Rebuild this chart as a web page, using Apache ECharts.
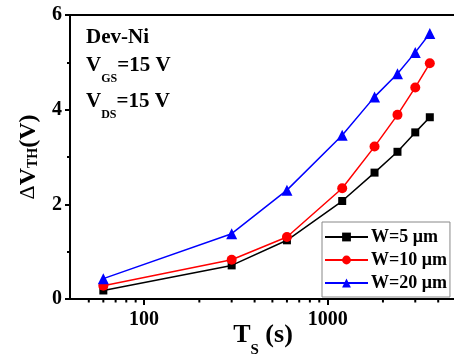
<!DOCTYPE html>
<html>
<head>
<meta charset="utf-8">
<script src="https://cdn.jsdelivr.net/npm/echarts@6/dist/echarts.min.js"></script>
<style>
  html, body { margin: 0; padding: 0; background: #fff; }
  #chart { width: 454px; height: 357px; }
</style>
</head>
<body>
<div id="chart"></div>
<script>
// Stress time (s) and threshold-voltage shift (V) for three channel widths
const stressTime = [60, 300, 600, 1200, 1800, 2400, 3000, 3600];
const shiftW5  = [0.18, 0.71, 1.24, 2.07, 2.67, 3.11, 3.52, 3.84];
const shiftW10 = [0.28, 0.83, 1.31, 2.34, 3.22, 3.89, 4.47, 4.98];
const shiftW20 = [0.43, 1.38, 2.30, 3.46, 4.27, 4.76, 5.21, 5.61];
const seriesNames = ['W=5 \u03bcm', 'W=10 \u03bcm', 'W=20 \u03bcm'];
// log-axis minor tick values (2..9 × decade)
const minorTickValues = [50, 60, 70, 80, 90, 200, 300, 400, 500, 600, 700, 800, 900, 2000, 3000, 4000];

const FONT = '"Liberation Serif", "Times New Roman", serif';
const chart = echarts.init(document.getElementById('chart'), null, { renderer: 'canvas' });

function pairs(ys) { return stressTime.map((t, i) => [t, ys[i]]); }

function lineSeries(name, ys, color, symbol, size) {
  return {
    name: name, type: 'line', data: pairs(ys),
    symbol: symbol, symbolSize: size,
    lineStyle: { color: color, width: 1.5 },
    itemStyle: { color: color },
    z: 3
  };
}

// rich-text pieces: main glyphs and a lowered subscript, both hung from the line top
function mainStyle(size, lh, bold) {
  return { fontFamily: FONT, fontWeight: bold ? 'bold' : 'normal', fontSize: size, lineHeight: lh, color: '#000', verticalAlign: 'top' };
}
function subStyle(size, drop) {
  return { fontFamily: FONT, fontWeight: 'bold', fontSize: size, lineHeight: size + drop, color: '#000', verticalAlign: 'top', padding: [drop, 0, 0, 0] };
}

chart.setOption({
  animation: false,
  backgroundColor: '#fff',
  grid: {
    left: 70, top: 15, right: -2, bottom: 58,
    outerBoundsMode: 'none', containLabel: false,
    show: true, borderColor: '#000', borderWidth: 2, backgroundColor: 'transparent'
  },
  xAxis: {
    type: 'log', logBase: 10, min: 39.5, max: 5000, splitNumber: 2,
    name: '{m|T}{s|S}{m| (s)}',
    nameLocation: 'middle', nameGap: 23, nameMoveOverlap: false,
    nameTextStyle: { rich: { m: mainStyle(26, 28, true), s: subStyle(15, 21) } },
    axisLine: { lineStyle: { color: '#000', width: 2 } },
    axisTick: { show: true, length: 6, lineStyle: { color: '#000', width: 2 } },
    axisLabel: {
      margin: 11, fontFamily: FONT, fontWeight: 'bold', fontSize: 20, color: '#000',
      showMinLabel: false, showMaxLabel: false,
      formatter: function (v) {
        const e = Math.log10(v);
        return Math.abs(e - Math.round(e)) < 1e-6 ? String(Math.round(v)) : '';
      }
    },
    splitLine: { show: false }
  },
  yAxis: {
    type: 'value', min: 0, max: 6, interval: 2,
    name: '{d|\u0394}{m|V}{s|TH}{m|(V)}',
    nameLocation: 'middle', nameGap: 27, nameRotate: 90, nameMoveOverlap: false,
    nameTextStyle: { rich: { d: mainStyle(22, 26, false), m: mainStyle(24, 26, true), s: subStyle(14, 9) } },
    axisLine: { show: true, lineStyle: { color: '#000', width: 2 } },
    axisTick: { show: true, length: 5, lineStyle: { color: '#000', width: 2 } },
    minorTick: { show: true, splitNumber: 2, length: 3, lineStyle: { color: '#000', width: 2 } },
    axisLabel: { margin: 8, fontFamily: FONT, fontWeight: 'bold', fontSize: 20, color: '#000' },
    splitLine: { show: false }
  },
  legend: {
    orient: 'vertical', left: 322, top: 222,
    data: seriesNames,
    backgroundColor: '#fff', borderColor: '#888', borderWidth: 1,
    padding: [6, 3, 5, 2], itemGap: 5, itemWidth: 43, itemHeight: 11,
    textStyle: { fontFamily: FONT, fontWeight: 'bold', fontSize: 18, color: '#000', lineHeight: 18, padding: [0, 0, 0, -2] }
  },
  series: [
    lineSeries(seriesNames[0], shiftW5, '#000000', 'rect', 8),
    lineSeries(seriesNames[1], shiftW10, '#ff0000', 'circle', 10),
    lineSeries(seriesNames[2], shiftW20, '#0000ff', 'triangle', 11)
  ]
});

// Minor ticks along the log axis, placed through the axis scale
const minorTicks = minorTickValues.map(function (v) {
  const p = chart.convertToPixel({ xAxisIndex: 0, yAxisIndex: 0 }, [v, 0]);
  return {
    type: 'line', silent: true, z: 10,
    shape: { x1: p[0], y1: p[1], x2: p[0], y2: p[1] + 3.5 },
    style: { stroke: '#000', lineWidth: 2 }
  };
});

// Measurement conditions, top-left of the plot
const annoMain = { fontFamily: FONT, fontWeight: 'bold', fontSize: 21, lineHeight: 22, fill: '#000', verticalAlign: 'top' };
const annoSub = { fontFamily: FONT, fontWeight: 'bold', fontSize: 12, lineHeight: 30, fill: '#000', verticalAlign: 'top', padding: [18, 0, 0, 0] };
const annotations = [
  { text: '{m|Dev-Ni}', top: 27 },
  { text: '{m|V}{s|GS}{m|=15 V}', top: 55 },
  { text: '{m|V}{s|DS}{m|=15 V}', top: 91 }
].map(function (a) {
  return {
    type: 'text', left: 86, top: a.top, z: 10,
    style: { text: a.text, rich: { m: annoMain, s: annoSub } }
  };
});

chart.setOption({ graphic: minorTicks.concat(annotations) });
</script>
</body>
</html>
